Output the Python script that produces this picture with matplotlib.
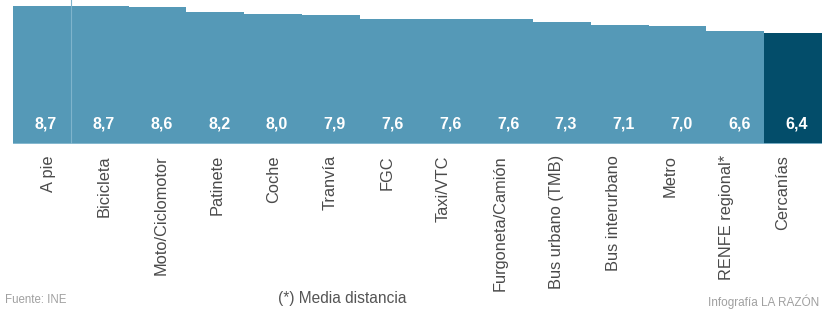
import numpy as np
import matplotlib
matplotlib.use('Agg')
import matplotlib.pyplot as plt
import matplotlib.transforms as mtransforms

plt.rcParams['font.family'] = ['Liberation Sans', 'DejaVu Sans']

# Data
modes = ['A pie', 'Bicicleta', 'Moto/Ciclomotor', 'Patinete', 'Coche', 'Tranvía', 'FGC',
         'Taxi/VTC', 'Furgoneta/Camión', 'Bus urbano (TMB)', 'Bus interurbano', 'Metro',
         'RENFE regional*', 'Cercanías']
scores = [8.7, 8.7, 8.6, 8.2, 8.0, 7.9, 7.6, 7.6, 7.6, 7.3, 7.1, 7.0, 6.6, 6.4]
value_labels = ['8,7', '8,7', '8,6', '8,2', '8,0', '7,9', '7,6', '7,6', '7,6', '7,3',
                '7,1', '7,0', '6,6', '6,4']

light = '#5599b7'
dark = '#034d6a'
colors = [light] * (len(modes) - 1) + [dark]

# the chart is a cropped infographic: bars rise from a hidden baseline
base = -3.06

W, H = 822, 309
fig = plt.figure(figsize=(W / 100, H / 100), dpi=100)
ax = fig.add_axes([13 / W, 1 - 144 / H, 1 - 13 / W, 144 / H])

x = np.arange(len(modes))
ax.bar(x, np.array(scores) - base, bottom=base, width=1.0, color=colors, linewidth=0)
ax.set_xlim(-0.5, len(modes) - 0.5)
ax.set_ylim(base, 9.21)

# thin light separator after the first bar and light bottom edge
ax.axvline(0.5, color='#7fb4cc', lw=0.8)
ax.axhline(base, color='#8fbfd4', lw=1.2)

# value labels inside bars
off = mtransforms.offset_copy(ax.get_xaxis_transform(), fig=fig, x=4, y=0, units='dots')
for xi, lab in zip(x, value_labels):
    ax.text(xi, 0.139, lab, transform=off, ha='center', va='center',
            color='white', fontsize=11.5, fontweight='bold')

# category labels sit on a slightly tighter pitch than the bars in the original
ax.set_xticks(0.106 + 0.978 * x)
ax.set_xticklabels(modes, rotation=90, fontsize=11.8, color='#4a4a4a')
ax.tick_params(axis='x', length=0, pad=8)
ax.set_yticks([])
for s in ax.spines.values():
    s.set_visible(False)

fig.text(5 / W, 1 - 300 / H, 'Fuente: INE', fontsize=8.3, color='#a0a0a0', va='center')
fig.text(278 / W, 1 - 298 / H, '(*) Media distancia', fontsize=11.2, color='#555555', va='center')
fig.text(819 / W, 1 - 302 / H, 'Infografía LA RAZÓN', fontsize=8.5, color='#a0a0a0',
         va='center', ha='right')

fig.savefig('out.png', dpi=100)
